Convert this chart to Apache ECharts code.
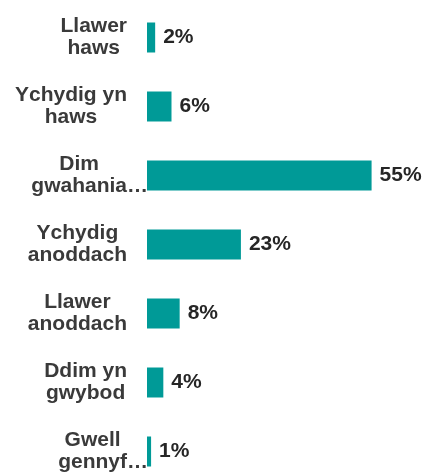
<!DOCTYPE html>
<html>
<head>
<meta charset="utf-8">
<script src="https://cdn.jsdelivr.net/npm/echarts@6/dist/echarts.min.js"></script>
<style>
  html, body { margin: 0; padding: 0; background: #ffffff; }
  #chart { width: 424px; height: 472px; }
</style>
</head>
<body>
<div id="chart"></div>
<script>
const categories = [
  "Llawer\nhaws",
  "Ychydig yn\nhaws",
  "Dim\ngwahania…",
  "Ychydig\nanoddach",
  "Llawer\nanoddach",
  "Ddim yn\ngwybod",
  "Gwell\ngennyf…"
];
const values = [2, 6, 55, 23, 8, 4, 1];

const font = "'Liberation Sans', Arial, sans-serif";
const labelSize = 21;

// measure text so that each label's lines are centred within its block
const ctx = document.createElement('canvas').getContext('2d');
ctx.font = 'bold ' + labelSize + 'px ' + font;
const ellW = ctx.measureText('…').width;
const rich = {};
const labelLines = categories.map(function (cat, k) {
  const lines = cat.split('\n');
  const info = lines.map(function (l) {
    const trunc = /…$/.test(l);
    return { text: l, trunc: trunc, w: ctx.measureText(l.replace(/…$/, '')).width };
  });
  const W = Math.max.apply(null, info.map(function (d) { return d.w; }));
  info.forEach(function (d, i) {
    const pad = (W - d.w) / 2 + (d.trunc ? 0 : ellW);
    rich['l' + k + '_' + i] = {
      color: '#3a3a3a',
      fontFamily: font,
      fontWeight: 'bold',
      fontSize: labelSize,
      lineHeight: 22,
      padding: [0, pad, 0, 0]
    };
  });
  return info;
});

const chart = echarts.init(document.getElementById('chart'), null, { renderer: 'canvas' });

chart.setOption({
  animation: false,
  grid: { left: 147, right: 32, top: 3, height: 483, containLabel: false, outerBoundsMode: 'none' },
  xAxis: {
    type: 'value',
    min: 0,
    max: 60,
    show: false
  },
  yAxis: {
    type: 'category',
    data: categories,
    inverse: true,
    axisLine: { show: false },
    axisTick: { show: false },
    splitLine: { show: false },
    axisLabel: {
      margin: -1,
      color: '#3a3a3a',
      fontFamily: font,
      fontWeight: 'bold',
      fontSize: labelSize,
      lineHeight: 22,
      formatter: function (v, idx) {
        return labelLines[idx].map(function (d, i) {
          return '{l' + idx + '_' + i + '|' + d.text + '}';
        }).join('\n');
      },
      rich: rich
    }
  },
  series: [{
    type: 'bar',
    data: values,
    barWidth: 30,
    itemStyle: { color: '#009a97' },
    label: {
      show: true,
      position: 'right',
      distance: 8,
      formatter: '{c}%',
      color: '#262626',
      fontFamily: font,
      fontWeight: 'bold',
      fontSize: 21
    }
  }]
});
</script>
</body>
</html>
